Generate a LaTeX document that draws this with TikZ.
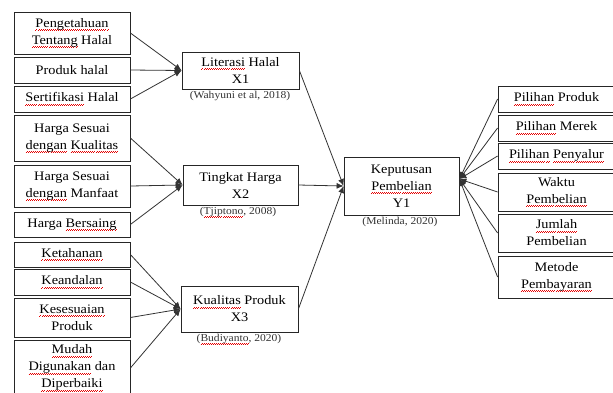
\documentclass[tikz,border=0pt]{standalone}
\usepackage{fontspec}
\setmainfont{Liberation Serif}[FakeStretch=1.1]
\usetikzlibrary{arrows.meta}
\newsavebox\sqbox
\newcommand\sqpat{\hbox{{\color{red!90!black}\rule{1pt}{0.6pt}\raise0.7pt\hbox{\rule{1pt}{0.6pt}}}}}
\newcommand\sq[1]{\sbox\sqbox{#1}\rlap{\lower3.2pt\hbox to\wd\sqbox{\xleaders\sqpat\hfil}}\usebox\sqbox}
\begin{document}
\begin{tikzpicture}[x=1pt,y=-1pt,
 box/.style={draw=black!85, line width=0.8pt, inner sep=0pt, align=center, font=\fontsize{13}{17}\selectfont},
 cite/.style={inner sep=0pt, font=\fontsize{10.5}{12}\selectfont, text=black!80},
 arr/.style={draw=black!80, line width=0.8pt, -{Latex[length=7pt,width=6pt]}}]
\useasboundingbox (0,0) rectangle (613,392);
\fill[white] (0,0) rectangle (613,392);
% left indicator boxes
\node[box, minimum width=116pt, minimum height=42pt] (L1) at (72,33) {\sq{Pengetahuan}\\\sq{Tentang} Halal};
\node[box, minimum width=116pt, minimum height=26pt] (L2) at (72,70) {Produk halal};
\node[box, minimum width=116pt, minimum height=26pt] (L3) at (72,99) {\sq{Sertifikasi} Halal};
\node[box, minimum width=116pt, minimum height=46pt] (L4) at (72,138) {Harga Sesuai\\\sq{dengan} \sq{Kualitas}};
\node[box, minimum width=116pt, minimum height=42pt] (L5) at (72,186) {Harga Sesuai\\\sq{dengan} Manfaat};
\node[box, minimum width=116pt, minimum height=25pt] (L6) at (72,224.5) {Harga \sq{Bersaing}};
\node[box, minimum width=116pt, minimum height=25pt] (L7) at (72,254.5) {\sq{Ketahanan}};
\node[box, minimum width=116pt, minimum height=26pt] (L8) at (72,282) {\sq{Keandalan}};
\node[box, minimum width=116pt, minimum height=39pt] (L9) at (72,317.5) {\sq{Kesesuaian}\\Produk};
\node[box, minimum width=116pt, minimum height=56pt] (L10) at (72,368) {\sq{Mudah}\\\sq{Digunakan} dan\\\sq{Diperbaiki}};
% variable boxes
\node[box, minimum width=117pt, minimum height=37pt] (X1) at (240.5,70.5) {\sq{Literasi} Halal\\X1};
\node[cite] (C1) at (240,96) {(Wahyuni et al, 2018)};
\node[box, minimum width=115pt, minimum height=40pt] (X2) at (240.5,185) {Tingkat Harga\\X2};
\node[cite] (C2) at (238,212) {(\sq{Tjiptono}, 2008)};
\node[box, minimum width=117pt, minimum height=46pt] (X3) at (239.5,309) {\sq{Kualitas} Produk\\X3};
\node[cite] (C3) at (239,339) {(\sq{Budiyanto}, 2020)};
\node[box, minimum width=115pt, minimum height=58pt] (Y1) at (401.5,186) {Keputusan\\\sq{Pembelian}\\Y1};
\node[cite] (C4) at (400,222) {(Melinda, 2020)};
% right indicator boxes
\node[box, minimum width=117pt, minimum height=26pt] (R1) at (556.5,99) {\sq{Pilihan} Produk};
\node[box, minimum width=117pt, minimum height=26pt] (R2) at (556.5,128) {\sq{Pilihan} Merek};
\node[box, minimum width=117pt, minimum height=26pt] (R3) at (556.5,156) {\sq{Pilihan} \sq{Penyalur}};
\node[box, minimum width=117pt, minimum height=38pt] (R4) at (556.5,192) {Waktu\\\sq{Pembelian}};
\node[box, minimum width=117pt, minimum height=38pt] (R5) at (556.5,233) {\sq{Jumlah}\\Pembelian};
\node[box, minimum width=117pt, minimum height=42pt] (R6) at (556.5,277) {Metode\\\sq{Pembayaran}};
% connectors
\foreach \s in {L1,L2,L3} \draw[arr] (\s.east) -- (X1.west);
\foreach \s in {L4,L5,L6} \draw[arr] (\s.east) -- (X2.west);
\foreach \s in {L7,L8,L9,L10} \draw[arr] (\s.east) -- (X3.west);
\foreach \s in {X1,X2,X3} \draw[arr] (\s.east) -- (Y1.west);
\coordinate (YR) at ([yshift=7pt]Y1.east);
\foreach \s in {R1,R2,R3,R4,R5,R6} \draw[arr] (\s.west) -- (YR);
\end{tikzpicture}
\end{document}
